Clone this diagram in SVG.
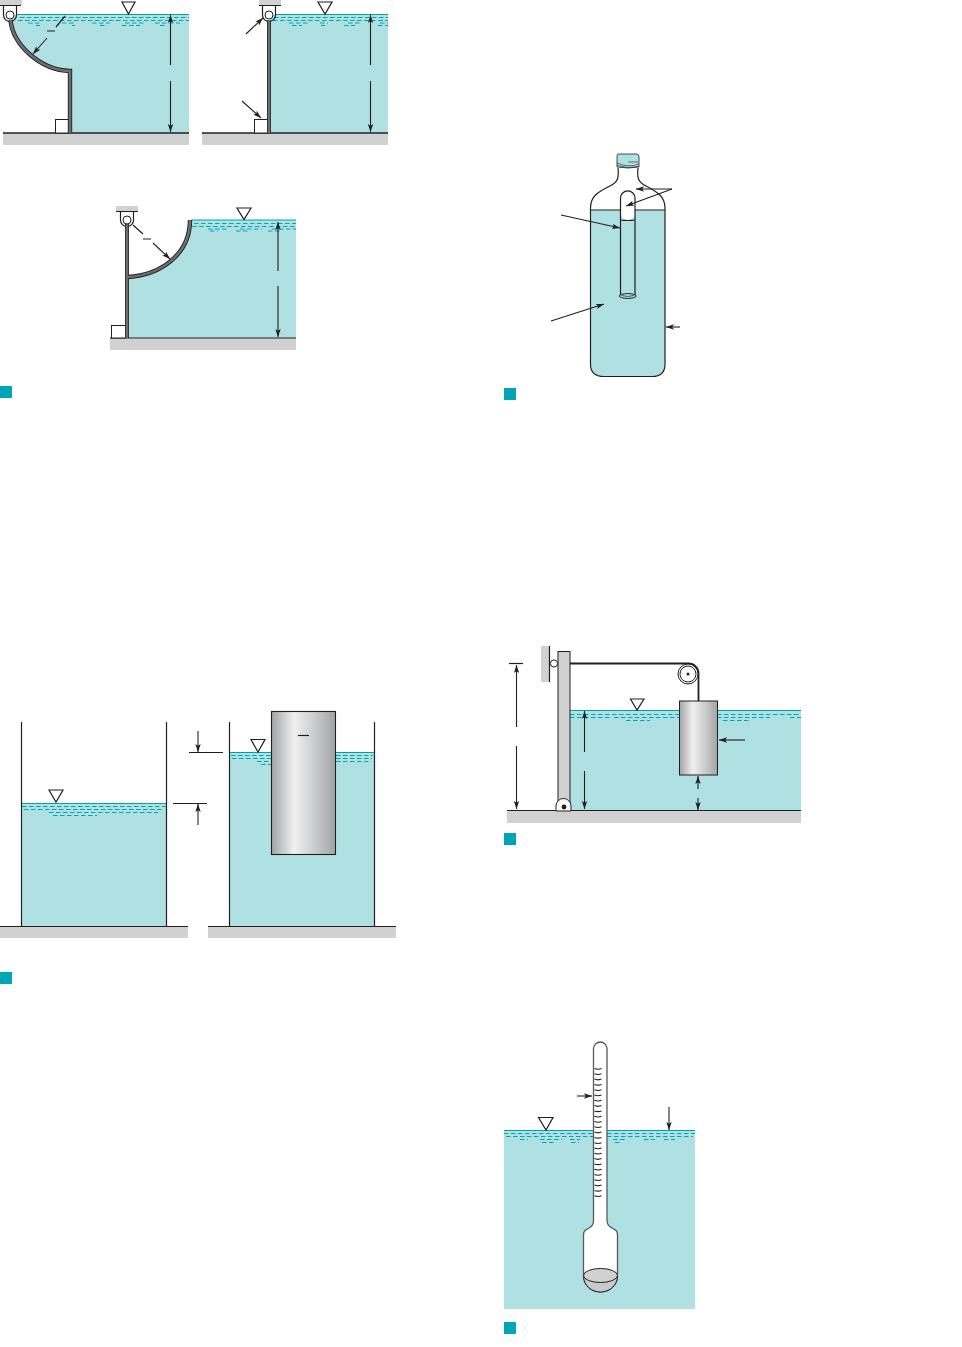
<svg xmlns="http://www.w3.org/2000/svg" width="962" height="1347" viewBox="0 0 962 1347">
<style>
.water{fill:#b0e1e2;stroke:none}
.ground{fill:#d1d1d1;stroke:none}
.gbar{fill:#d1d1d1;stroke:none}
.tag{fill:#00a5b8;stroke:none}
.ln{fill:none;stroke:#231f20;stroke-width:1.2}
.thick{fill:none;stroke:#231f20;stroke-width:1.6}
.box{fill:#fff;stroke:#231f20;stroke-width:1}
.surf{fill:none;stroke:#00a0b0;stroke-width:1.2}
.dash{fill:none;stroke:#00a5b8;stroke-width:1;stroke-dasharray:4.500 2.500}
.tri{fill:#fff;stroke:#231f20;stroke-width:1.200}
.arr{fill:none;stroke:#231f20;stroke-width:1.100;marker-end:url(#ah)}
.gateo{fill:none;stroke:#231f20;stroke-width:4.400}
.gatei{fill:none;stroke:#6d6e70;stroke-width:2.600}
.roll{fill:#fff;stroke:#231f20;stroke-width:1}
.tick{fill:none;stroke:#231f20;stroke-width:1.100}
</style>
<defs>
<marker id="ah" markerUnits="userSpaceOnUse" markerWidth="9" markerHeight="7" refX="8" refY="3" orient="auto"><path d="M0,0.300 L8,3 L0,5.700 L1.800,3 Z" fill="#231f20"/></marker>
<linearGradient id="cyl" x1="0" x2="1" y1="0" y2="0"><stop offset="0" stop-color="#a3a4a6"/><stop offset="0.35" stop-color="#f0f0f0"/><stop offset="0.7" stop-color="#c8c9cb"/><stop offset="1" stop-color="#a3a4a6"/></linearGradient>
</defs>

<g id="fig-curved-gate-a">
<path class="water" d="M10,15 H189 V133 H70 V71 C40,70 13,45 10,20 Z"/>
<rect class="ground" x="3" y="133" width="186" height="12"/>
<path class="thick" d="M3,133 H189"/>
<path class="surf" d="M16,14.500 H189"/>
<path class="dash" d="M20,17.500 H189 M18,20.500 H189"/>
<path class="dash" d="M28,23 H40 M62,23 H75 M92,23 H110 M125,23 H145 M155,23 H180 M36,25.500 H40 M72,25.500 H75 M100,25.500 H105 M122,25.500 H140 M160,25.500 H165"/>
<rect class="gbar" x="0" y="0" width="22" height="5"/>
<path class="ln" d="M0,5.500 H21 M3.500,5.500 V15 A6.500,6.500 0 0 0 16.500,15 V5.500"/>
<rect class="box" x="55.500" y="119.500" width="14" height="13.500"/>
<path class="gateo" d="M10.500,20 C13,45 40,70 70,71 V133"/>
<path class="gatei" d="M10.500,20 C13,45 40,70 70,71 V133"/>
<circle class="roll" cx="10" cy="15" r="4"/>
<path class="tri" d="M122,2 H135 L128.500,14 Z"/>
<path class="arr" d="M170.500,65 V15"/>
<path class="arr" d="M170.500,81 V132"/>
<path class="ln" d="M65,16 L56,27 M47,31 H55" stroke-width="0.900"/>
<path class="arr" d="M47,38 L33,54"/>
</g>

<g id="fig-flat-gate">
<path class="water" d="M270,15 H388 V133 H270 Z"/>
<rect class="ground" x="202" y="133" width="186" height="12"/>
<path class="thick" d="M202,133 H388"/>
<path class="surf" d="M276,14.500 H388"/>
<path class="dash" d="M274,17.500 H388 M273,20.500 H384 M378,20.500 H388"/>
<path class="dash" d="M289,23 H308 M320,23 H328 M348,23 H362 M380,23 H388 M292,25.500 H302 M321,25.500 H325 M344,25.500 H355 M378,25.500 H388"/>
<rect class="gbar" x="259" y="0" width="22" height="5"/>
<path class="ln" d="M259,5.500 H281 M262.500,5.500 V15 A6.500,6.500 0 0 0 275.500,15 V5.500"/>
<rect class="box" x="254.500" y="119.500" width="14" height="13.500"/>
<path class="gateo" d="M269,20 V133" style="stroke-width:4"/>
<path class="gatei" d="M269,20 V133"/>
<circle class="roll" cx="269" cy="15" r="4"/>
<path class="tri" d="M318,2 H332 L325,14 Z"/>
<path class="arr" d="M370.500,65 V15"/>
<path class="arr" d="M370.500,81 V132"/>
<path class="arr" d="M246,34 L263,18"/>
<path class="arr" d="M242,101 L261,118"/>
</g>

<g id="fig-curved-gate-b">
<path class="water" d="M128,277 C160,275 190,255 190,220 H296 V338 H128 Z"/>
<rect class="ground" x="110" y="338" width="186" height="12"/>
<path class="thick" d="M110,338 H296" style="stroke-width:1"/>
<path class="surf" d="M191,220 H296"/>
<path class="dash" d="M194,223.500 H296 M192,226.500 H296"/>
<path class="dash" d="M208,229 H228 M240,229 H262 M272,229 H296 M210,231 H218 M236,231 H250 M268,231 H280"/>
<rect class="gbar" x="116" y="206" width="22" height="5"/>
<path class="ln" d="M116,211.500 H138 M120.500,211.500 V220 A6.500,6.500 0 0 0 133.500,220 V211.500"/>
<rect class="box" x="111.500" y="325.500" width="14" height="12.500"/>
<path class="gateo" d="M127,224 V338" style="stroke-width:4"/>
<path class="gatei" d="M127,224 V338"/>
<path class="gateo" d="M128,277 C160,275 190,255 190,220"/>
<path class="gatei" d="M128,277 C160,275 190,255 190,220"/>
<circle class="roll" cx="127" cy="220" r="4"/>
<path class="tri" d="M237,208 H251 L244,219.500 Z"/>
<path class="arr" d="M278,271 V222"/>
<path class="arr" d="M278,286 V337"/>
<path class="ln" d="M133,225 L143,234 M143,239 H151" stroke-width="0.900"/>
<path class="arr" d="M153,243 L170,259"/>
</g>

<rect id="tag-1" class="tag" x="0" y="386" width="12" height="12"/>

<g id="fig-bottle">
<path class="water" d="M591,210 H665 V364 Q665,376.500 652,376.500 H604 Q591,376.500 591,364 Z"/>
<rect x="620.500" y="191" width="14.500" height="29" rx="7" fill="#fff"/>
<path class="ln" d="M618,168 C619,178 618,182 610,186 C598,192 590.500,196 590.500,208 V364 Q590.500,376.500 604,376.500 H652 Q665,376.500 665,364 V208 C665,196 657,192 646,186 C638,182 637,178 638,168" stroke="#3a3a3c"/>
<path d="M618,154 H637 Q639,154 639,157 V167 Q628,169 617,167 V157 Q617,154 618,154 Z" fill="#b0e1e2" stroke="#231f20" stroke-width="0.800"/>
<path class="ln" d="M617,163 Q628,168 639,164 M617,165.500 Q628,169 639,166.500 M628,162 H638" style="stroke-width:0.600"/>
<path class="ln" d="M591,210 H620 M635,210 H665"/>
<ellipse cx="627.700" cy="296" rx="8.500" ry="2.400" fill="#b0e1e2" stroke="#231f20" stroke-width="1"/>
<path d="M621.500,295.500 Q628,297.500 634,295.500" fill="none" stroke="#231f20" stroke-width="0.700"/>
<path class="ln" d="M620.500,295 V198 A7.200,7 0 0 1 635,198 V295 M620.500,220 Q628,221 635,220"/>
<path class="arr" d="M672,189 L636,189"/>
<path class="arr" d="M672,189 L626,206"/>
<path class="arr" d="M561,215 L620,228"/>
<path class="arr" d="M551,321 L604,304"/>
<path class="arr" d="M680,327 L666,327"/>
</g>

<rect id="tag-2" class="tag" x="504" y="388" width="12" height="12"/>

<g id="fig-pulley-cylinder">
<rect class="water" x="570" y="710" width="231" height="100"/>
<rect class="ground" x="507" y="810" width="294" height="13"/>
<path class="thick" d="M507,810.500 H801" style="stroke-width:1.100"/>
<path class="surf" d="M570,710.500 H801"/>
<path class="dash" d="M570,714.500 H801 M570,717.500 H610 M614,717.500 H679 M717,717.500 H770 M790,717.500 H801 M626,720.500 H650 M723,720.500 H750"/>
<rect class="gbar" x="541" y="646" width="8.500" height="36"/>
<path class="ln" d="M549.500,646 V682"/>
<circle class="roll" cx="554" cy="663.500" r="3.600"/>
<rect x="558" y="651.500" width="12" height="159" fill="#d1d1d1" stroke="#231f20" stroke-width="1"/>
<path d="M556,811 V806 A7.500,7.500 0 0 1 571,806 V811 Z" fill="#fff" stroke="#231f20" stroke-width="1"/>
<circle cx="564" cy="807" r="2.400" fill="#231f20"/>
<path class="thick" d="M570,663.500 H688 A10,10 0 0 1 698.500,674 V701" style="stroke-width:1.800"/>
<circle class="roll" cx="688" cy="674" r="10"/>
<circle class="roll" cx="688" cy="674" r="8"/>
<circle cx="688" cy="674" r="1.500" fill="#231f20"/>
<rect x="679.500" y="701" width="38" height="74" fill="url(#cyl)" stroke="#231f20" stroke-width="1"/>
<path class="tri" d="M630.500,699 H644 L637,710 Z"/>
<path class="ln" d="M509,663.500 H523" stroke-width="1"/>
<path class="arr" d="M516.500,727 V665"/>
<path class="arr" d="M516.500,746 V809"/>
<path class="arr" d="M584.500,752 V711"/>
<path class="arr" d="M584.500,771 V809"/>
<path class="arr" d="M698,789 V776"/>
<path class="arr" d="M698,798 V810"/>
<path class="arr" d="M745,740 L719,740"/>
</g>

<rect id="tag-3" class="tag" x="504" y="833" width="12" height="12"/>

<g id="fig-tank-left">
<rect class="water" x="21.500" y="803.500" width="145" height="123"/>
<rect class="ground" x="0" y="926" width="188" height="12"/>
<path class="thick" d="M0,926.500 H188" style="stroke-width:1.100"/>
<path class="surf" d="M22,803.500 H166"/>
<path class="dash" d="M22,806.500 H166 M24,809.500 H164 M49,812.500 H158 M53,815.500 H97"/>
<path class="ln" d="M21.500,722 V926 M166.500,722 V926"/>
<path class="tri" d="M49,790 H63 L56,802 Z"/>
</g>

<g id="fig-tank-right">
<rect class="water" x="229.500" y="752" width="145" height="174.500"/>
<rect class="ground" x="208" y="926" width="188" height="12"/>
<path class="thick" d="M208,926.500 H396" style="stroke-width:1.100"/>
<path class="surf" d="M230,752.500 H374"/>
<path class="dash" d="M231,755.500 H271 M336,755.500 H373 M232,758.500 H271 M336,758.500 H372 M257,761.500 H271 M336,761.500 H369 M261,764.500 H271"/>
<path class="ln" d="M229.500,722 V926 M374.500,722 V926"/>
<rect x="271.500" y="711.500" width="64" height="143" fill="url(#cyl)" stroke="#231f20" stroke-width="1.100"/>
<path class="ln" d="M298,735.500 H309" stroke-width="1"/>
<path class="tri" d="M251,739.500 H265 L258,752 Z"/>
<path class="ln" d="M189,752.500 H223 M173,803.500 H207" stroke-width="1"/>
<path class="arr" d="M198,731 V752"/>
<path class="arr" d="M198,825 V804"/>
</g>

<rect id="tag-4" class="tag" x="0" y="972" width="12" height="12"/>

<g id="fig-hydrometer">
<rect class="water" x="504" y="1130" width="191" height="179"/>
<path class="surf" d="M504,1130.500 H593 M607,1130.500 H695"/>
<path class="dash" d="M504,1133.500 H593 M607,1133.500 H695 M506,1136.500 H593 M607,1136.500 H693"/>
<path class="dash" d="M520,1139.500 H528 M540,1139.500 H562 M570,1139.500 H580 M613,1139.500 H626 M644,1139.500 H655 M664,1139.500 H675 M542,1142.500 H556 M571,1142.500 H579 M615,1142.500 H622"/>
<path d="M593.500,1220 V1048 A6.800,6.800 0 0 1 607,1048 V1220 C607,1225 609,1226 612,1228 C616,1230 617.500,1231 617.500,1235 V1276 A17,16 0 0 1 583.500,1276 V1235 C583.500,1231 585,1230 589,1228 C592,1226 593.500,1225 593.500,1220 Z" fill="#fff" stroke="#58595b" stroke-width="1.300"/>
<path d="M583.500,1276 A17,16 0 0 0 617.500,1276 Z" fill="#c9caca" stroke="#231f20" stroke-width="0.900"/>
<ellipse cx="600.500" cy="1275.500" rx="17" ry="7" fill="#d1d1d1" stroke="#231f20" stroke-width="1"/>
<path class="tick" d="M594.500,1068.500 Q598,1070 601.500,1068.500 M594.500,1073.800 Q598,1075.300 601.500,1073.800 M594.500,1079.100 Q598,1080.600 601.500,1079.100 M594.500,1084.400 Q598,1085.900 601.500,1084.400 M594.500,1089.700 Q598,1091.200 601.500,1089.700 M594.500,1095 Q598,1096.500 601.500,1095 M594.500,1100.300 Q598,1101.800 601.500,1100.300 M594.500,1105.600 Q598,1107.100 601.500,1105.600 M594.500,1110.900 Q598,1112.400 601.500,1110.900 M594.500,1116.200 Q598,1117.700 601.500,1116.200 M594.500,1121.500 Q598,1123 601.500,1121.500 M594.500,1126.800 Q598,1128.300 601.500,1126.800 M594.500,1132.100 Q598,1133.600 601.500,1132.100 M594.500,1137.400 Q598,1138.900 601.500,1137.400 M594.500,1142.700 Q598,1144.200 601.500,1142.700 M594.500,1148 Q598,1149.500 601.500,1148 M594.500,1153.300 Q598,1154.800 601.500,1153.300 M594.500,1158.600 Q598,1160.100 601.500,1158.600 M594.500,1163.900 Q598,1165.400 601.500,1163.900 M594.500,1169.200 Q598,1170.700 601.500,1169.200 M594.500,1174.500 Q598,1176 601.500,1174.500 M594.500,1179.800 Q598,1181.300 601.500,1179.800 M594.500,1185.100 Q598,1186.600 601.500,1185.100 M594.500,1190.400 Q598,1191.900 601.500,1190.400 M594.500,1195.700 Q598,1197.200 601.500,1195.700"/>
<path class="tri" d="M538.500,1117.500 H553 L546,1130 Z"/>
<path class="arr" d="M577,1096 L592,1096"/>
<path class="arr" d="M669,1107 V1130"/>
</g>

<rect id="tag-5" class="tag" x="504" y="1322" width="12" height="12"/>
</svg>
